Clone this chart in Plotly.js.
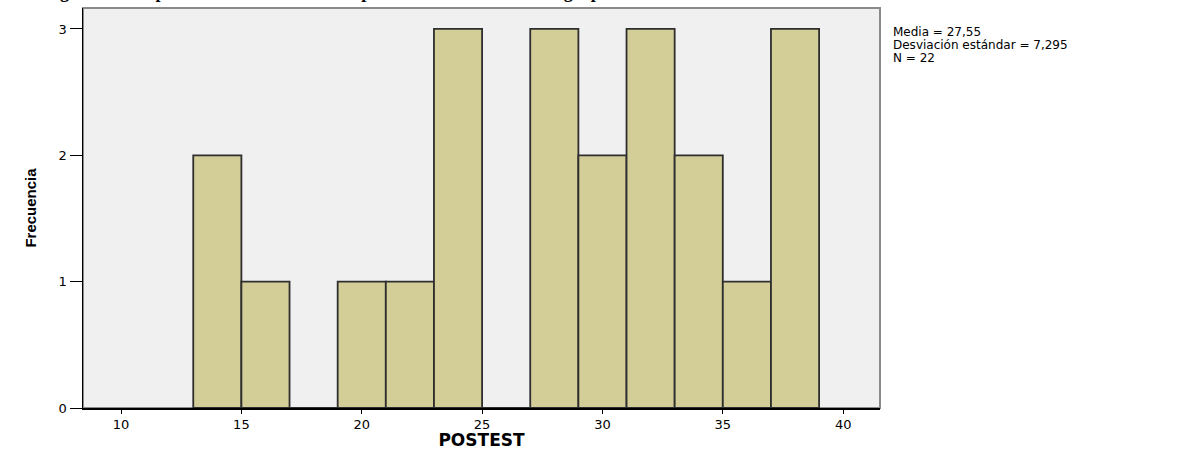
<!DOCTYPE html>
<html>
<head>
<meta charset="utf-8">
<script src="https://cdn.plot.ly/plotly-3.0.1.min.js"></script>
<style>html,body{margin:0;padding:0;background:#fff;}#chart{width:1178px;height:450px;}</style>
</head>
<body>
<div id="chart"></div>
<script>
// Histogram bins (width 2) and frequencies
const binCenters = [14, 16, 18, 20, 22, 24, 26, 28, 30, 32, 34, 36, 38];
const frequencies = [2, 1, 0, 1, 1, 3, 0, 3, 2, 3, 2, 1, 3];
const binWidth = 2;
const xTicks = [10, 15, 20, 25, 30, 35, 40];
const yTicks = [0, 1, 2, 3];
const statsLines = ["Media = 27,55", "Desviación estándar = 7,295", "N = 22"];
const titleText = "Figura 4. Comparación de resultados del postest en los alumnos del grupo";

const trace = {
  type: "bar",
  x: binCenters,
  y: frequencies,
  width: binCenters.map(() => binWidth),
  marker: {color: "#d3cd98", line: {color: "#2e2e2e", width: 1.8}},
  hoverinfo: "x+y"
};

const statAnn = statsLines.map((t, i) => ({
  xref: "paper", yref: "paper",
  x: 1.014, y: 1 - (24 + i * 13) / 400,
  xanchor: "left", yanchor: "middle",
  text: t, showarrow: false,
  font: {family: "DejaVu Sans, sans-serif", size: 12, color: "#000"}
}));

const layout = {
  width: 1178, height: 450,
  margin: {l: 83, r: 298, t: 8, b: 42},
  paper_bgcolor: "#ffffff",
  plot_bgcolor: "#f0f0f0",
  showlegend: false,
  bargap: 0,
  xaxis: {
    range: [8.42, 41.53],
    tickvals: xTicks,
    ticktext: xTicks.map(String),
    ticks: "outside", ticklen: 4, tickcolor: "#000", tickwidth: 1,
    showgrid: false, zeroline: false,
    showline: true, linecolor: "#000", linewidth: 1.5,
    tickfont: {family: "DejaVu Sans, sans-serif", size: 13, color: "#000"},
    title: {text: "<b>POSTEST</b>", standoff: 2,
      font: {family: "DejaVu Sans, sans-serif", size: 17, color: "#000"}}
  },
  yaxis: {
    range: [0, 3.166],
    tickvals: yTicks,
    ticktext: yTicks.map(String),
    ticks: "outside", ticklen: 12, tickcolor: "#000", tickwidth: 1,
    showgrid: false, zeroline: false,
    showline: true, linecolor: "#000", linewidth: 1.5,
    tickfont: {family: "DejaVu Sans, sans-serif", size: 13, color: "#000"},
    title: {text: "<b>Frecuencia</b>", standoff: 18,
      font: {family: "Liberation Sans Narrow, Liberation Sans, Arial, sans-serif", size: 15, color: "#000"}}
  },
  shapes: [{
    type: "rect", xref: "paper", yref: "paper", x0: 0, x1: 1, y0: 0, y1: 1,
    line: {color: "#8a8a8a", width: 2}, fillcolor: "rgba(0,0,0,0)", layer: "below"
  }],
  annotations: statAnn.concat([{
    xref: "paper", yref: "paper",
    x: (42 - 83) / 797, y: 1.009, xanchor: "left", yanchor: "bottom",
    text: "<b>" + titleText + "</b>", showarrow: false,
    font: {family: "Liberation Serif, Times New Roman, serif", size: 18, color: "#000"}
  }])
};

Plotly.newPlot("chart", [trace], layout, {displayModeBar: false, staticPlot: true});
</script>
</body>
</html>
